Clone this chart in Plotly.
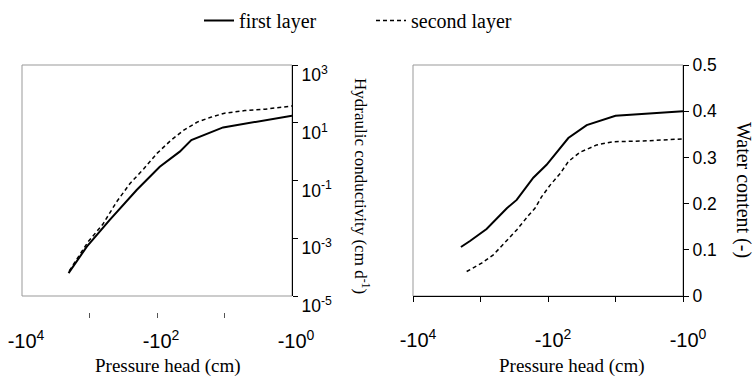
import plotly.graph_objects as go

# ---- data ----
# Hydraulic conductivity, first layer
k1_head = [-2042, -1096, -501, -200, -91, -46, -31, -10.5, -1]
k1_val = [6.2e-5, 5.1e-4, 4.3e-3, 0.047, 0.30, 1.0, 2.5, 6.9, 17.4]
# Hydraulic conductivity, second layer
k2_head = [-1995, -1047, -631, -398, -251, -158, -100, -63, -40, -25, -16, -10, -5, -2.5, -1]
k2_val = [7.4e-5, 7.6e-4, 3.1e-3, 0.018, 0.079, 0.25, 0.87, 2.4, 5.6, 10.7, 15.5, 21.4, 26.3, 29.5, 38]
# Water content, first layer
w1_head = [-1950, -1430, -813, -407, -291, -165, -105, -50, -26.7, -10, -1]
w1_val = [0.106, 0.119, 0.145, 0.19, 0.208, 0.256, 0.284, 0.342, 0.370, 0.390, 0.400]
# Water content, second layer
w2_head = [-1603, -962, -646, -490, -409, -291, -195, -156, -124, -93, -66, -50, -33.6, -19, -10.8, -3.9, -1]
w2_val = [0.053, 0.071, 0.089, 0.107, 0.121, 0.143, 0.174, 0.19, 0.215, 0.240, 0.265, 0.291, 0.311, 0.327, 0.334, 0.3355, 0.34]

x_tickvals = [1e4, 1e2, 1e0]
x_ticktext = ["-10<sup>4</sup>", "-10<sup>2</sup>", "-10<sup>0</sup>"]
x_minorvals = [1e3, 1e1]
x_markvals = [1e3, 1e2, 1e1]
k_tickvals = [1e-5, 1e-3, 1e-1, 1e1, 1e3]
k_ticktext = ["10<sup>-5</sup>", "10<sup>-3</sup>", "10<sup>-1</sup>", "10<sup>1</sup>", "10<sup>3</sup>"]

SANS = "Liberation Sans"
SERIF = "Liberation Serif"

fig = go.Figure()
fig.add_trace(go.Scatter(x=[abs(v) for v in k1_head], y=k1_val, mode="lines", name="first layer",
                         line=dict(color="black", width=2), xaxis="x", yaxis="y"))
fig.add_trace(go.Scatter(x=[abs(v) for v in k2_head], y=k2_val, mode="lines", name="second layer",
                         line=dict(color="black", width=1.5, dash="4px,3px"), xaxis="x", yaxis="y"))
fig.add_trace(go.Scatter(x=[abs(v) for v in w1_head], y=w1_val, mode="lines", showlegend=False,
                         line=dict(color="black", width=2), xaxis="x2", yaxis="y2"))
fig.add_trace(go.Scatter(x=[abs(v) for v in w2_head], y=w2_val, mode="lines", showlegend=False,
                         line=dict(color="black", width=1.5, dash="4px,3px"), xaxis="x2", yaxis="y2"))
# empty helper trace so that the detached tick-mark axis of the left panel is drawn
fig.add_trace(go.Scatter(x=[], y=[], mode="lines", showlegend=False, hoverinfo="skip",
                         xaxis="x3", yaxis="y"))

W, H = 756, 377
ydom = [1 - 296 / H, 1 - 65 / H]
xtickfont = dict(family=SANS, size=20, color="black")
ytickfont = dict(family=SANS, size=17.5, color="black")
titlefont = dict(family=SERIF, size=19, color="black")

fig.update_layout(
    width=W, height=H,
    margin=dict(l=0, r=0, t=0, b=0, autoexpand=False),
    paper_bgcolor="white", plot_bgcolor="white",
    showlegend=True,
    legend=dict(orientation="h", x=0.5 - 7 / W, xanchor="center", y=1 - 1 / H, yanchor="top",
                font=dict(family=SERIF, size=20, color="black"), entrywidth=127,
                bgcolor="rgba(0,0,0,0)"),
    xaxis=dict(domain=[22 / W, 292 / W], anchor="y", type="log", range=[4, 0], automargin=False,
               showgrid=False, zeroline=False, showline=False, ticks="",
               tickvals=x_tickvals, ticktext=x_ticktext, tickfont=xtickfont,
               ticklabelstandoff=31, ticklabelshift=-4),
    yaxis=dict(domain=ydom, anchor="x", type="log", range=[-5, 3], side="right", automargin=False,
               showgrid=False, zeroline=False, showline=True, linecolor="black", linewidth=1,
               ticks="outside", ticklen=5, tickcolor="black",
               tickvals=k_tickvals, ticktext=k_ticktext, tickfont=ytickfont,
               ticklabelshift=10),
    xaxis3=dict(overlaying="x", anchor="free", position=1 - 312 / H, type="log", range=[4, 0],
                automargin=False,
                showgrid=False, zeroline=False, showline=False, ticks="outside", ticklen=5,
                tickcolor="#555555", tickvals=x_markvals, showticklabels=False),
    xaxis2=dict(domain=[413 / W, 683 / W], anchor="y2", type="log", range=[4, 0], automargin=False,
                showgrid=False, zeroline=False, showline=True, linecolor="black", linewidth=1,
                ticks="outside", ticklen=5, tickcolor="black",
                tickvals=x_tickvals, ticktext=x_ticktext, tickfont=xtickfont,
                minor=dict(tickvals=x_minorvals, ticks="outside", ticklen=5, tickcolor="black",
                           showgrid=False),
                ticklabelstandoff=21, ticklabelshift=-5),
    yaxis2=dict(domain=ydom, anchor="x2", range=[0, 0.5], side="right", automargin=False,
                showgrid=False, zeroline=False, showline=True, linecolor="black", linewidth=1,
                ticks="outside", ticklen=5, tickcolor="black", dtick=0.1, tickfont=ytickfont),
    shapes=[
        dict(type="rect", xref="x domain", yref="y domain", x0=0, x1=1, y0=0, y1=1,
             line=dict(color="#999999", width=1), layer="below"),
        dict(type="rect", xref="x2 domain", yref="y2 domain", x0=0, x1=1, y0=0, y1=1,
             line=dict(color="#999999", width=1), layer="below"),
    ],
    annotations=[
        dict(text="Pressure head (cm)", xref="paper", yref="paper",
             x=168 / W, y=1 - 366 / H, xanchor="center", yanchor="middle", showarrow=False,
             font=titlefont),
        dict(text="Pressure head (cm)", xref="paper", yref="paper",
             x=572 / W, y=1 - 366 / H, xanchor="center", yanchor="middle", showarrow=False,
             font=titlefont),
        dict(text="Hydraulic conductivity (cm d<sup>-1</sup>)", xref="paper", yref="paper",
             x=362 / W, y=1 - 186 / H, xanchor="center", yanchor="middle",
             textangle=90, showarrow=False,
             font=dict(family=SERIF, size=17, color="black")),
        dict(text="Water content (-)", xref="paper", yref="paper",
             x=744 / W, y=1 - 190 / H, xanchor="center", yanchor="middle",
             textangle=90, showarrow=False,
             font=dict(family=SERIF, size=20, color="black")),
    ],
)

fig.write_html("out.html")
